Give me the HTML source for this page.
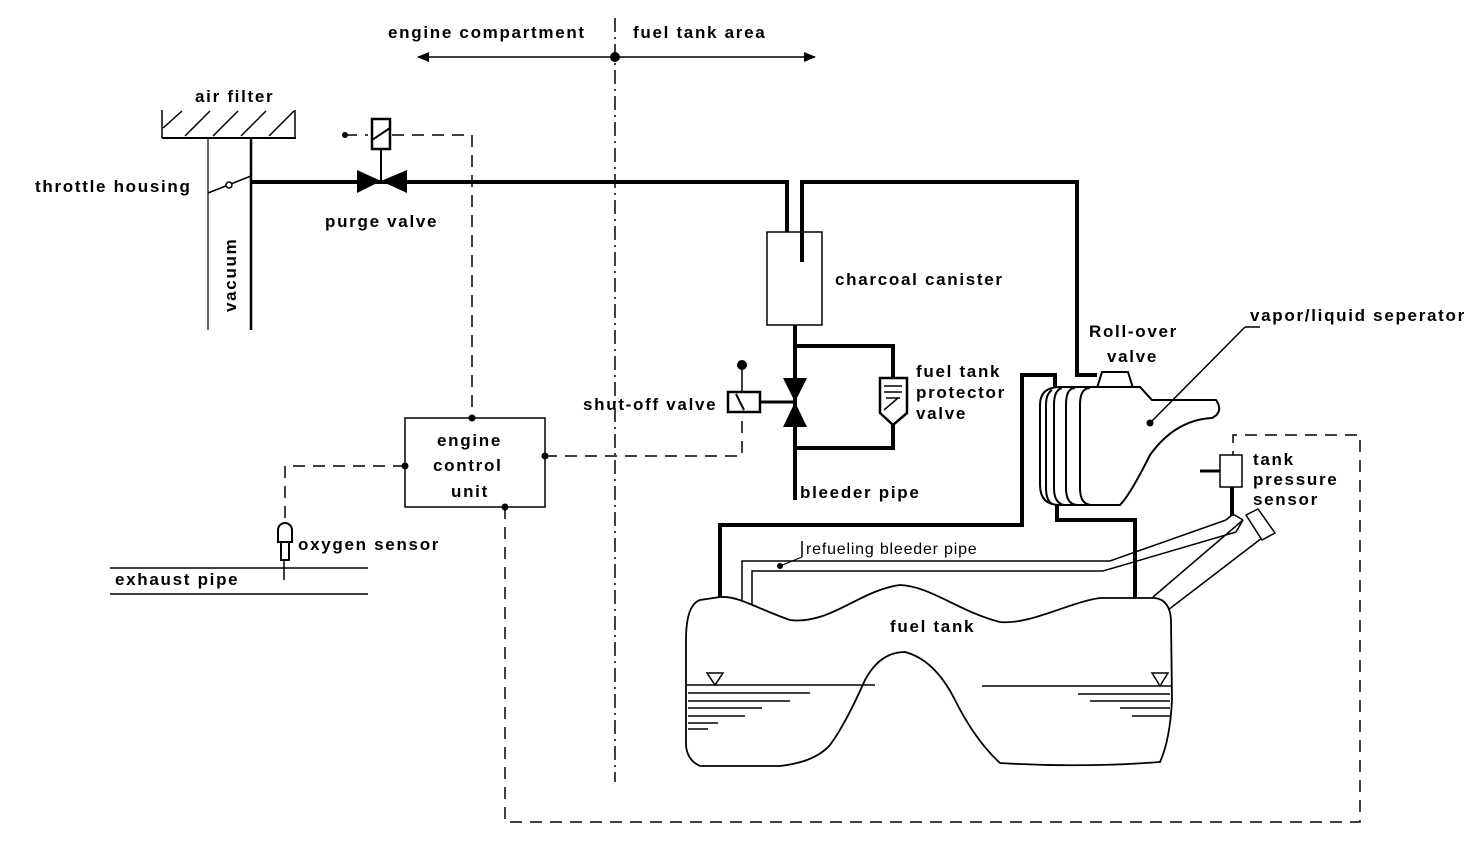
<!DOCTYPE html>
<html><head><meta charset="utf-8"><style>
html,body{margin:0;padding:0;background:#fff;}
svg{display:block;}
text{font-family:"Liberation Sans",sans-serif;font-weight:bold;font-size:17px;letter-spacing:1.7px;fill:#000;}
</style></head><body>
<svg width="1472" height="860" viewBox="0 0 1472 860" xmlns="http://www.w3.org/2000/svg">
<defs>
<marker id="ah" markerWidth="12" markerHeight="10" refX="11" refY="5" orient="auto" markerUnits="userSpaceOnUse"><path d="M0,0 L12,5 L0,10 Z" fill="#000"/></marker>
</defs>
<g stroke="#000" fill="none">
<line x1="615" y1="57" x2="815" y2="57" stroke-width="1.5" marker-end="url(#ah)"/>
<line x1="615" y1="57" x2="418" y2="57" stroke-width="1.5" marker-end="url(#ah)"/>
<line x1="615" y1="18" x2="615" y2="782" stroke-width="1.5" stroke-dasharray="14,5,2,5"/>
<line x1="162" y1="138" x2="296" y2="138" stroke-width="2"/>
<line x1="162" y1="110" x2="162" y2="138" stroke-width="1.5"/>
<line x1="295" y1="110" x2="295" y2="138" stroke-width="1.5"/>
<g stroke-width="1.5"><line x1="163" y1="128" x2="182" y2="111"/><line x1="185" y1="136" x2="210" y2="111"/><line x1="213" y1="136" x2="238" y2="111"/><line x1="241" y1="136" x2="266" y2="111"/><line x1="269" y1="136" x2="294" y2="111"/></g>
<line x1="208" y1="138" x2="208" y2="330" stroke-width="1.2"/>
<line x1="251" y1="138" x2="251" y2="330" stroke-width="2.5"/>
<line x1="208" y1="193" x2="251" y2="176" stroke-width="1.5"/>
<circle cx="229" cy="185" r="3" fill="#fff" stroke-width="1.5"/>
<polyline points="251,182 787,182 787,232" stroke-width="4"/>
<polyline points="802,262 802,182 1077,182 1077,375 1097,375" stroke-width="4"/>
<line x1="381" y1="150" x2="381" y2="181" stroke-width="2"/>
<rect x="372" y="119" width="18" height="30" stroke-width="2.5" fill="#fff"/>
<line x1="372" y1="140" x2="390" y2="128" stroke-width="2"/>
<rect x="767" y="232" width="55" height="93" stroke-width="1.5"/>
<polyline points="795,325 795,500" stroke-width="4"/>
<polyline points="795,346 893,346 893,378" stroke-width="4"/>
<polyline points="893,420 893,448 795,448" stroke-width="4"/>
<path d="M880,378 H907 V413 L893,425 L880,413 Z" stroke-width="2.5" fill="#fff"/>
<path d="M884,386 h18 M884,392 h18 M886,398 l14,0 M884,410 l14,-12" stroke-width="1.5"/>
<rect x="728" y="392" width="32" height="20" stroke-width="2.5" fill="#fff"/>
<line x1="736" y1="394" x2="744" y2="410" stroke-width="2"/>
<line x1="742" y1="365" x2="742" y2="392" stroke-width="1.5"/>
<line x1="760" y1="402" x2="795" y2="402" stroke-width="3"/>
<g stroke-width="1.5" stroke-dasharray="12,8">
<polyline points="345,135 368,135"/>
<polyline points="392,135 472,135 472,418"/>
<polyline points="405,466 285,466 285,525"/>
<polyline points="545,456 742,456 742,414"/>
<polyline points="505,507 505,822 1360,822 1360,435 1233,435 1233,455"/>
</g>
<rect x="405" y="418" width="140" height="89" stroke-width="1.5" fill="#fff"/>
<line x1="110" y1="568" x2="368" y2="568" stroke-width="1.5"/>
<line x1="110" y1="594" x2="368" y2="594" stroke-width="1.5"/>
<path d="M278,542 V530 a7,7 0 0 1 14,0 V542 Z" stroke-width="2" fill="#fff"/>
<path d="M281,542 V560 H289 V542" stroke-width="2"/>
<line x1="284" y1="560" x2="284" y2="580" stroke-width="1.5"/>
<polyline points="720,597 720,525 1022,525 1022,375 1055,375 1055,388" stroke-width="4"/>
<polyline points="1057,505 1057,520 1135,520 1135,598" stroke-width="4"/>
<polyline points="742,600 742,561 1110,561 1226,520" stroke-width="1.5"/>
<polyline points="752,604 752,571 1103,571 1236,532" stroke-width="1.5"/>
<line x1="780" y1="566" x2="802" y2="557" stroke-width="1.2"/>
<line x1="802" y1="541" x2="802" y2="557" stroke-width="1.5"/>
<line x1="1153" y1="597" x2="1243" y2="520" stroke-width="1.5"/>
<line x1="1168" y1="610" x2="1262" y2="538" stroke-width="1.5"/>
<path d="M1236,532 L1243,520 M1226,520 L1233,514 L1243,520" stroke-width="1.5"/>
<path d="M1246,515 L1258,509 L1275,533 L1262,540 Z" stroke-width="1.5" fill="#fff"/>
<rect x="1220" y="455" width="22" height="32" stroke-width="1.5" fill="#fff"/>
<line x1="1200" y1="471" x2="1220" y2="471" stroke-width="3"/>
<line x1="1232" y1="487" x2="1232" y2="516" stroke-width="4"/>
<path d="M1097,388 L1102,372 L1128,372 L1133,388" stroke-width="2"/>
<path d="M1060,387 H1140 L1152,400 H1216 Q1224,412 1212,418 Q1175,420 1150,455 Q1130,495 1120,505 H1060 Q1040,505 1040,485 V405 Q1040,387 1060,387 Z" stroke-width="2" fill="#fff"/>
<path d="M1090,388 Q1080,388 1080,405 V488 Q1080,505 1092,505 M1075,388 Q1066,388 1066,405 V488 Q1066,505 1078,505 M1062,388 Q1054,390 1054,405 V488 Q1054,503 1064,505 M1052,390 Q1046,394 1046,405 V488 Q1046,500 1052,504" stroke-width="2"/>
<line x1="1150" y1="423" x2="1245" y2="327" stroke-width="1.5"/>
<line x1="1245" y1="327" x2="1260" y2="327" stroke-width="1.5"/>
<path d="M720,597 C740,596 755,608 790,620 C830,625 860,590 900,585 C930,586 960,612 1000,622 C1030,625 1070,602 1100,598 L1155,598 Q1170,600 1171,620 L1172,700 Q1170,740 1160,762 Q1080,768 1000,763 Q975,740 955,700 Q935,660 905,652 Q880,652 865,680 Q845,725 830,745 Q815,762 780,766 L700,766 Q687,760 686,745 L686,640 Q686,605 700,600 Z" stroke-width="1.8" fill="#fff"/>
<line x1="686" y1="685" x2="875" y2="685" stroke-width="1.5"/>
<line x1="982" y1="686" x2="1172" y2="686" stroke-width="1.5"/>
<g stroke-width="1.5"><line x1="688" y1="693" x2="810" y2="693"/><line x1="688" y1="701" x2="790" y2="701"/><line x1="688" y1="708" x2="762" y2="708"/><line x1="688" y1="716" x2="745" y2="716"/><line x1="688" y1="723" x2="718" y2="723"/><line x1="688" y1="729" x2="708" y2="729"/>
<line x1="1078" y1="694" x2="1170" y2="694"/><line x1="1090" y1="701" x2="1170" y2="701"/><line x1="1120" y1="708" x2="1170" y2="708"/><line x1="1132" y1="716" x2="1170" y2="716"/></g>
<path d="M707,673 L723,673 L715,685 Z" stroke-width="1.5"/>
<path d="M1152,673 L1168,673 L1160,686 Z" stroke-width="1.5"/>
</g>
<g fill="#000">
<circle cx="615" cy="57" r="5"/>
<path d="M357,170 L381,181 L357,193 Z"/>
<path d="M407,170 L381,181 L407,193 Z"/>
<path d="M783,378 L807,378 L795,402 Z"/>
<path d="M783,427 L807,427 L795,402 Z"/>
<circle cx="345" cy="135" r="3"/>
<circle cx="742" cy="365" r="5"/>
<circle cx="472" cy="418" r="3.5"/><circle cx="405" cy="466" r="3.5"/><circle cx="545" cy="456" r="3.5"/><circle cx="505" cy="507" r="3.5"/>
<circle cx="780" cy="566" r="3"/>
<circle cx="1150" cy="423" r="3.5"/>
</g>
<text x="388" y="38">engine compartment</text>
<text x="633" y="38">fuel tank area</text>
<text x="195" y="102">air filter</text>
<text x="35" y="192">throttle housing</text>
<text x="325" y="227">purge valve</text>
<text transform="translate(236,312) rotate(-90)">vacuum</text>
<text x="835" y="285">charcoal canister</text>
<text x="1089" y="337">Roll-over</text>
<text x="1107" y="362">valve</text>
<text x="1250" y="321">vapor/liquid seperator</text>
<text x="916" y="377">fuel tank</text>
<text x="916" y="398">protector</text>
<text x="916" y="419">valve</text>
<text x="583" y="410">shut-off valve</text>
<text x="437" y="446">engine</text>
<text x="433" y="471">control</text>
<text x="451" y="497">unit</text>
<text x="800" y="498">bleeder pipe</text>
<text x="1253" y="465">tank</text>
<text x="1253" y="485">pressure</text>
<text x="1253" y="505">sensor</text>
<text x="298" y="550">oxygen sensor</text>
<text x="115" y="585">exhaust pipe</text>
<text x="806" y="554" style="font-weight:normal;font-size:16px;letter-spacing:0.8px">refueling bleeder pipe</text>
<text x="890" y="632">fuel tank</text>
</svg>
</body></html>
